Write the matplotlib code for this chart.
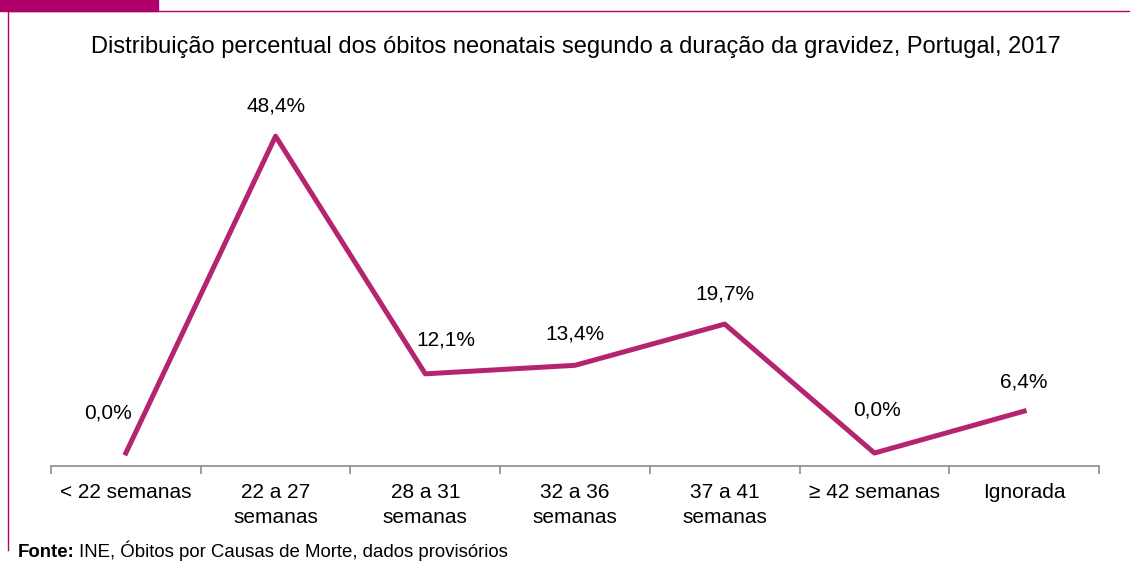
import matplotlib.pyplot as plt
from matplotlib.patches import Rectangle
from matplotlib.lines import Line2D

plt.rcParams['font.family'] = ['Liberation Sans', 'DejaVu Sans']

# dados
categorias = ['< 22 semanas', '22 a 27\nsemanas', '28 a 31\nsemanas', '32 a 36\nsemanas',
              '37 a 41\nsemanas', '≥ 42 semanas', 'Ignorada']
percentagens = [0.0, 48.4, 12.1, 13.4, 19.7, 0.0, 6.4]
rotulos = ['0,0%', '48,4%', '12,1%', '13,4%', '19,7%', '0,0%', '6,4%']

titulo = 'Distribuição percentual dos óbitos neonatais segundo a duração da gravidez, Portugal, 2017'

cor_linha = '#B5256F'
cor_moldura = '#B0006A'

W, H = 1130, 562
fig = plt.figure(figsize=(W / 100, H / 100), dpi=100)

# moldura (separador magenta + linhas finas)
fig.patches.append(Rectangle((0, 1 - 11 / H), 158 / W, 11 / H, transform=fig.transFigure,
                             color=cor_moldura, zorder=0))
fig.lines.append(Line2D([8 / W, 1], [1 - 11 / H, 1 - 11 / H], transform=fig.transFigure,
                        color=cor_moldura, lw=1))
fig.lines.append(Line2D([8 / W, 8 / W], [1 - 11 / H, 1 - 550 / H], transform=fig.transFigure,
                        color=cor_moldura, lw=1))

# eixo
ax = fig.add_axes([51 / W, (H - 466) / H, (1099 - 51) / W, (466 - 93) / H])
x = list(range(len(categorias)))
ax.plot(x, percentagens, color=cor_linha, lw=3.6)
ax.set_xlim(-0.5, len(categorias) - 0.5)
ax.set_ylim(-1.98, 55)

offsets = [(-18, 40), (0, 30), (21, 34), (0, 31), (0, 30), (3, 43), (0, 29)]
for xi, yi, r, off in zip(x, percentagens, rotulos, offsets):
    ax.annotate(r, (xi, yi), xytext=off, textcoords='offset pixels',
                ha='center', va='center', fontsize=15)

for s in ['top', 'right', 'left']:
    ax.spines[s].set_visible(False)
ax.spines['bottom'].set_color('#8C8C8C')
ax.spines['bottom'].set_linewidth(1.2)
ax.set_yticks([])
ax.set_xticks(x)
ax.set_xticklabels(categorias, fontsize=15, linespacing=1.4)
ax.tick_params(axis='x', which='major', length=0, pad=12)
ax.set_xticks([i - 0.5 for i in range(len(categorias) + 1)], minor=True)
ax.tick_params(axis='x', which='minor', length=6, width=1.2, color='#8C8C8C', direction='out')

fig.text(576 / W, 1 - 47 / H, titulo, ha='center', va='center', fontsize=17)

# fonte
t1 = fig.text(18 / W, 1 - 557 / H, 'Fonte:', fontsize=13.4, fontweight='bold',
              ha='left', va='baseline')
fig.canvas.draw()
bb = t1.get_window_extent()
fig.text((bb.x1 + 4) / W, 1 - 557 / H, 'INE, Óbitos por Causas de Morte, dados provisórios',
         fontsize=13.4, ha='left', va='baseline')

fig.savefig('out.png', dpi=100)
